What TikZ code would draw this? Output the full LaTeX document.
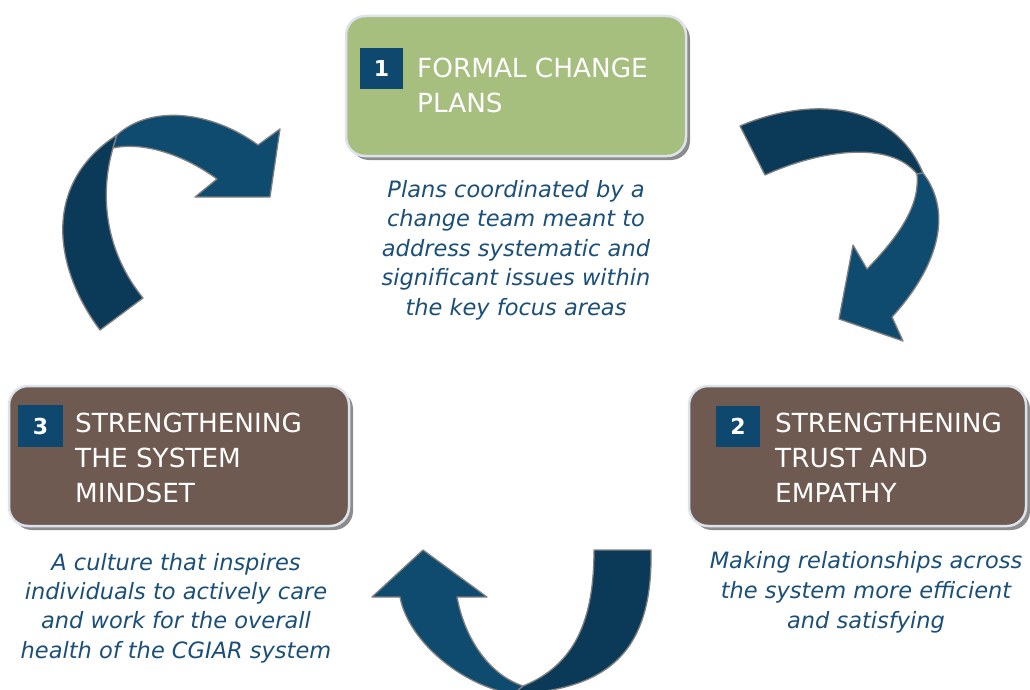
\documentclass[tikz,border=0pt]{standalone}
\usepackage{fontspec}
\setmainfont{DejaVu Sans}
\usetikzlibrary{shadows}
\definecolor{boxgreen}{HTML}{A6BE7E}
\definecolor{boxbrown}{HTML}{6E5A50}
\definecolor{numblue}{HTML}{0E486E}
\definecolor{descblue}{HTML}{1B4F78}
\definecolor{arrowfrontc}{HTML}{0F4B6E}
\definecolor{arrowbackc}{HTML}{0B3A58}
\definecolor{arrowrim}{HTML}{808080}
\definecolor{panelrim}{HTML}{DCE3EC}
\tikzset{
  panel/.style={draw=panelrim, line width=2.5pt, rounded corners=19pt,
    minimum height=140pt, inner sep=0pt,
    drop shadow={shadow xshift=4pt, shadow yshift=-4pt, fill=black, opacity=0.45}},
  numbox/.style={fill=numblue, inner sep=0pt, text=white,
    font=\bfseries\fontsize{22}{24}\selectfont},
  titletext/.style={text=white, font=\fontsize{26.3}{35}\selectfont,
    align=left, anchor=base west, inner sep=0pt},
  desctext/.style={text=descblue, font=\itshape\fontsize{22.5}{29.5}\selectfont,
    align=center, anchor=base, inner sep=0pt},
  arrowfront/.style={fill=arrowfrontc, draw=arrowrim, line width=1.3pt, line join=round},
  arrowback/.style={fill=arrowbackc, draw=arrowrim, line width=1.3pt, line join=round}
}
\begin{document}
\begin{tikzpicture}[x=1pt,y=-1pt]
\useasboundingbox (0,0) rectangle (1030,690);
\clip (0,0) rectangle (1030,690);

% panels
\node[panel, fill=boxgreen, minimum width=340pt] (p1) at (516,86) {};
\node[panel, fill=boxbrown, minimum width=340pt] (p3) at (179,456) {};
\node[panel, fill=boxbrown, minimum width=337pt] (p2) at (857.5,456) {};

% number squares
\node[numbox, minimum width=43pt, minimum height=41pt] (n1) at (381.5,68.5) {1};
\node[numbox, minimum width=45pt, minimum height=42pt] (n3) at (40.5,426) {3};
\node[numbox, minimum width=44pt, minimum height=41pt] (n2) at (738,426.5) {2};

% titles (anchor = baseline of the last line)
\node[titletext] (t1) at (417,113) {FORMAL CHANGE\\PLANS};
\node[titletext] (t3) at (75,502) {STRENGTHENING\\THE SYSTEM\\MINDSET};
\node[titletext] (t2) at (775,502) {STRENGTHENING\\TRUST AND\\EMPATHY};

% descriptions (anchor = baseline of the last line)
\node[desctext] (d1) at (516,315) {Plans coordinated by a\\change team meant to\\address systematic and\\significant issues within\\the key focus areas};
\node[desctext, font=\itshape\fontsize{22.5}{29.3}\selectfont] (d3) at (176,658) {A culture that inspires\\individuals to actively care\\and work for the overall\\health of the CGIAR system};
\node[desctext, font=\itshape\fontsize{22.5}{30}\selectfont] (d2) at (866,628) {Making relationships across\\the system more efficient\\and satisfying};

% left arrow (3 -> 1)
\draw[arrowback] (100,330) .. controls (55,270) and (40,185) .. (117,135)
  -- (113,148) .. controls (98,200) and (108,255) .. (143,298) -- cycle;
\draw[arrowfront] (117,135) .. controls (150,105) and (210,110) .. (258,145)
  -- (280,129) -- (270,197) -- (195,197) -- (217,179)
  .. controls (180,152) and (140,142) .. (113,148) -- cycle;

% right arrow (1 -> 2)
\draw[arrowback] (740,126) .. controls (800,100) and (890,95) .. (923,173)
  -- (917,174) .. controls (890,140) and (820,150) .. (765,175) -- cycle;
\draw[arrowfront] (923,173) .. controls (955,215) and (935,270) .. (892,317)
  -- (903,341) -- (839,319) -- (853,245) -- (867,269)
  .. controls (900,235) and (920,205) .. (917,174) -- cycle;

% bottom arrow (2 -> 3)
\draw[arrowback] (594,550) -- (651,550) .. controls (653,650) and (610,690) .. (513,694)
  -- (523,686) .. controls (575,665) and (594,620) .. (594,550) -- cycle;
\draw[arrowfront] (400,597) -- (372,597) -- (423,550) -- (487,597) -- (457,597)
  .. controls (465,640) and (490,675) .. (523,686) -- (513,694)
  .. controls (460,685) and (408,640) .. (400,597) -- cycle;
\end{tikzpicture}
\end{document}
